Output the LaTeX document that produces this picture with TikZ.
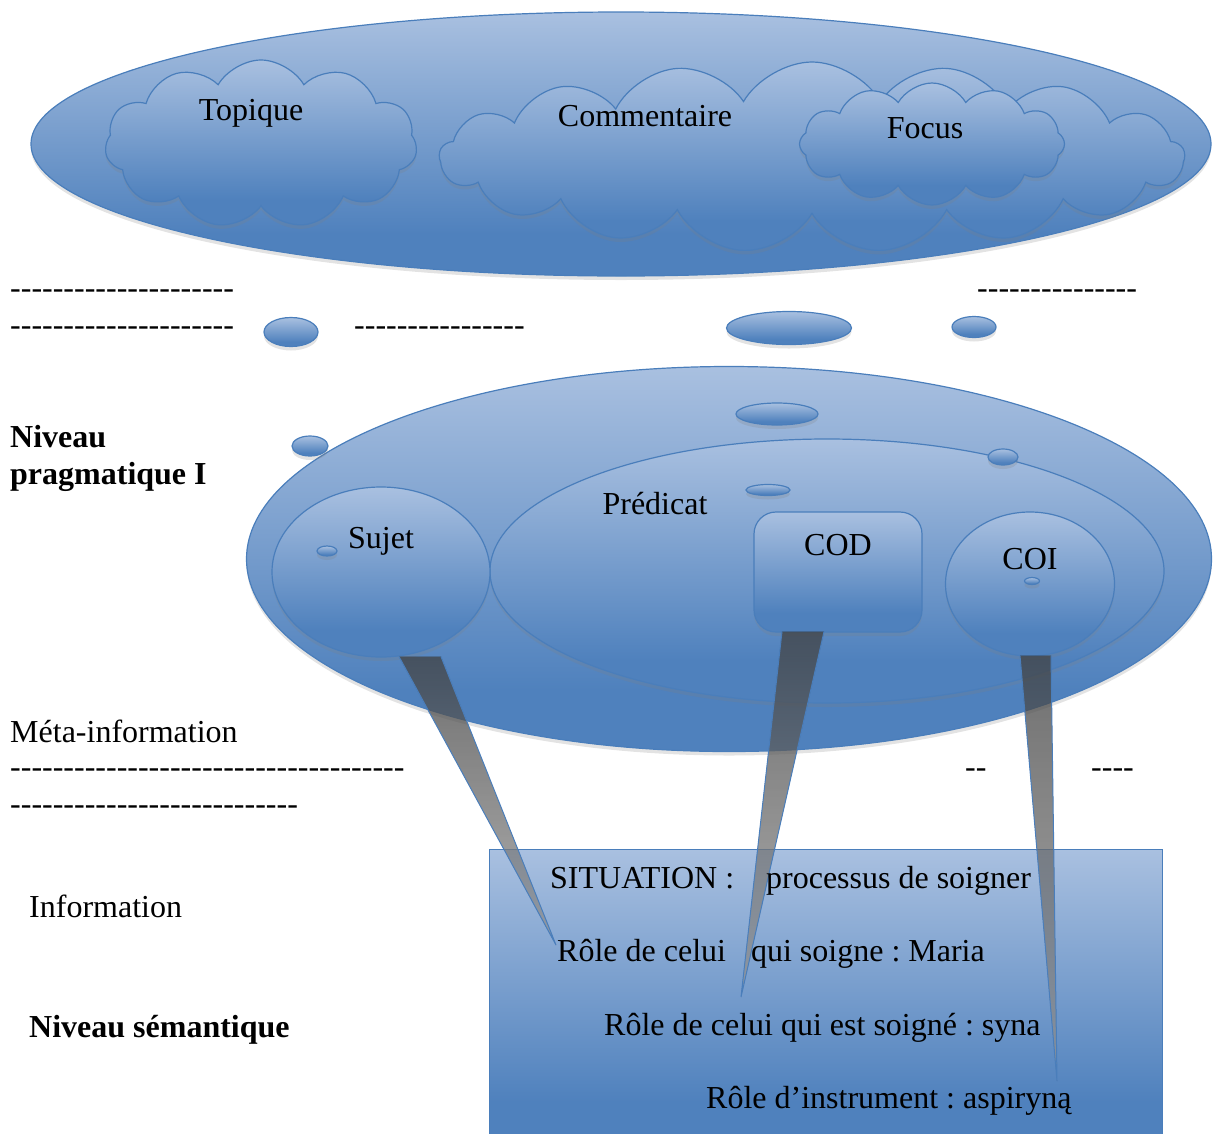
\documentclass[tikz,border=0pt]{standalone}
\usepackage{fontspec}
\setmainfont{Liberation Serif}
\usetikzlibrary{positioning,calc,shapes.geometric,shapes.symbols,shadows}
\definecolor{bleuClair}{HTML}{A9C0E0}
\definecolor{bleuFonce}{HTML}{4F81BD}
\definecolor{bleuTrait}{HTML}{4A7EBB}
\pgfdeclareverticalshading{degradeBleu}{100bp}{color(0bp)=(bleuFonce); color(33bp)=(bleuFonce); color(75bp)=(bleuClair); color(100bp)=(bleuClair)}
\pgfdeclareverticalshading{degradeQueue}{100bp}{color(0bp)=(black!12); color(25bp)=(black!12); color(75bp)=(black!62); color(100bp)=(black!62)}
\newcommand\tirets[1]{\foreach\k in {1,...,#1}{-}}
\tikzset{
  forme/.style={shading=degradeBleu, draw=bleuTrait, line width=1.2pt,
    drop shadow={shadow xshift=0pt, shadow yshift=-4pt, opacity=0.22}},
  bulle/.style={forme, ellipse, inner sep=0pt},
  nuage/.style={forme, cloud, cloud puffs=#1, cloud puff arc=120, inner sep=0pt},
  etiq/.style={anchor=base, inner sep=0pt},
  marge/.style={anchor=base west, inner sep=0pt},
  queue/.style={shading=degradeQueue, opacity=0.5},
  bordQueue/.style={draw=bleuTrait, line width=1pt}
}

\begin{document}
\frenchspacing
\begin{tikzpicture}[x=1pt, y=-1pt, font=\fontsize{32}{38}\selectfont]
  \useasboundingbox (0,0) rectangle (1218,1133);
  \clip (0,0) rectangle (1218,1133);

  \node[bulle, minimum width=1180pt, minimum height=264pt] (infoPrag) at (621,144) {};
  \node[nuage=11, minimum width=312pt, minimum height=168pt] (topique) at (261,144) {};
  \node[nuage=17, minimum width=745pt, minimum height=190pt] (commentaire) at (812,157) {};
  \node[nuage=12, minimum width=265pt, minimum height=122pt] (focus) at (932,144) {};

  \node[bulle, minimum width=54pt, minimum height=29pt] (goutteA) at (291,332) {};
  \node[bulle, minimum width=125pt, minimum height=33pt] (goutteB) at (789,328) {};
  \node[bulle, minimum width=44pt, minimum height=21pt] (goutteC) at (974,327) {};

  \node[bulle, minimum width=965pt, minimum height=385pt] (phrase) at (729,559) {};
  \node[bulle, minimum width=36pt, minimum height=20pt] (goutteD) at (310,446) {};
  \node[bulle, minimum width=82pt, minimum height=22pt] (goutteE) at (777,414) {};
  \node[bulle, minimum width=674pt, minimum height=264pt] (predicat) at (827,571) {};
  \node[bulle, minimum width=30pt, minimum height=16pt] (goutteF) at (1003,457) {};
  \node[bulle, minimum width=44pt, minimum height=11pt] (goutteG) at (768,490) {};
  \node[bulle, minimum width=218pt, minimum height=170pt] (sujet) at (381,572) {};
  \node[bulle, minimum width=20pt, minimum height=10pt] (goutteH) at (327,551) {};
  \node[forme, rectangle, rounded corners=22pt, minimum width=168pt, minimum height=120pt] (cod) at (838,572) {};
  \node[bulle, minimum width=169pt, minimum height=144pt] (coi) at (1030,584) {};
  \node[bulle, minimum width=15pt, minimum height=7pt] (goutteI) at (1032,581) {};

  \node[forme, rectangle, anchor=north west, minimum width=673pt, minimum height=300pt] (situation) at (489,849) {};

  \coordinate (pointeSujet) at (556,945);
  \coordinate (pointeCod) at (741,997);
  \coordinate (pointeCoi) at (1057,1081);
  \coordinate (sujetG) at ($(sujet.south)+(18,-1)$);
  \coordinate (sujetD) at ($(sujet.south)+(60,-1)$);
  \coordinate (codG) at ($(cod.south)+(-56,-1)$);
  \coordinate (codD) at ($(cod.south)+(-14,-1)$);
  \coordinate (coiG) at ($(coi.south)+(-10,-1)$);
  \coordinate (coiD) at ($(coi.south)+(21,-1)$);
  \fill[queue] (sujetG) -- (pointeSujet) -- (sujetD) -- cycle;
  \fill[queue] (codG) -- (pointeCod) -- (codD) -- cycle;
  \fill[queue] (coiG) -- (pointeCoi) -- (coiD) -- cycle;
  \draw[bordQueue] (sujetG) -- (pointeSujet) -- (sujetD);
  \draw[bordQueue] (codG) -- (pointeCod) -- (codD);
  \draw[bordQueue] (coiG) -- (pointeCoi) -- (coiD);

  \node[etiq] (tTopique) at (251,120) {Topique};
  \node[etiq] (tCommentaire) at (645,126) {Commentaire};
  \node[etiq] (tFocus) at (925,138) {Focus};
  \node[etiq] (tPredicat) at (655,514) {Prédicat};
  \node[etiq] (tSujet) at (381,548) {Sujet};
  \node[etiq] (tCod) at (838,555) {COD};
  \node[etiq] (tCoi) at (1030,569) {COI};

  \node[marge] (tiretsA) at (10,298) {\tirets{21}};
  \node[marge] (tiretsB) at (977,298) {\tirets{15}};
  \node[marge] (tiretsC) at (10,335) {\tirets{21}};
  \node[marge] (tiretsD) at (354,335) {\tirets{16}};
  \node[marge, font=\fontsize{32}{38}\selectfont\bfseries] (niveauA) at (10,447) {Niveau};
  \node[marge, font=\fontsize{32}{38}\selectfont\bfseries] (niveauB) at (10,484) {pragmatique I};
  \node[marge] (meta) at (10,742) {Méta-information};
  \node[marge] (tiretsE) at (10,777) {\tirets{37}};
  \node[marge] (tiretsF) at (965,777) {\tirets{2}};
  \node[marge] (tiretsG) at (1091,777) {\tirets{4}};
  \node[marge] (tiretsH) at (10,814) {\tirets{27}};
  \node[marge] (information) at (29,917) {Information};
  \node[marge, font=\fontsize{32}{38}\selectfont\bfseries] (niveauSem) at (29,1037) {Niveau sémantique};

  \node[marge] (ligneA) at (550,888) {SITUATION :\hspace{32pt}processus de soigner};
  \node[marge] (ligneB) at (557,961) {Rôle de celui\hspace{25pt}qui soigne : Maria};
  \node[marge] (ligneC) at (604,1035) {Rôle de celui qui est soigné : syna};
  \node[marge] (ligneD) at (706,1108) {Rôle d’instrument : aspiryną};
\end{tikzpicture}
\end{document}
